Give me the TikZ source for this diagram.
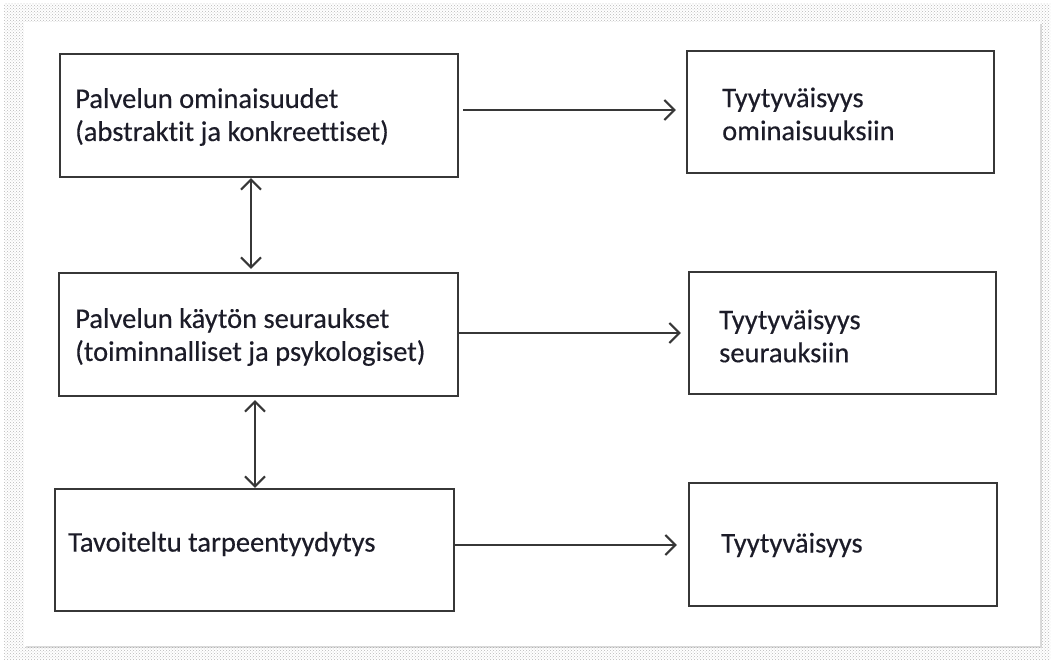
\documentclass[tikz,border=0pt]{standalone}
\usepackage{fontspec}
\setmainfont{Carlito}
\newfontfamily\lblfont{Carlito}[FakeBold=0.35,Ligatures=NoCommon]
\usetikzlibrary{arrows.meta,patterns,shadows}
\definecolor{txt}{RGB}{28,28,40}
\definecolor{edge}{RGB}{55,55,55}
\begin{document}
\begin{tikzpicture}[x=1pt,y=-1pt,
  box/.style={draw=edge,line width=2.4pt,fill=white,inner sep=0pt},
  lbl/.style={anchor=west,align=left,text=txt,font=\lblfont\fontsize{28.5}{33}\selectfont,inner sep=0pt},
  arr/.style={draw=edge,line width=2pt,-{Straight Barb[length=10pt,width=20pt,line width=2pt]}},
  darr/.style={draw=edge,line width=2pt,{Straight Barb[length=10pt,width=20pt,line width=2pt]}-{Straight Barb[length=10pt,width=20pt,line width=2pt]}}]
\useasboundingbox (0,0) rectangle (1052,661);
\fill[white] (0,0) rectangle (1052,661);
\fill[pattern=crosshatch dots, pattern color=gray!55] (4,4) rectangle (1050,659);
\fill[white, drop shadow={opacity=0.25, shadow xshift=2pt, shadow yshift=-2pt}] (24,22) rectangle (1040,646);
% boxes
\node[box, minimum width=398pt, minimum height=123pt] (b1) at (259,115.5) {};
\node[box, minimum width=399pt, minimum height=123pt] (b2) at (258.5,334.5) {};
\node[box, minimum width=399pt, minimum height=122pt] (b3) at (254.5,550) {};
\node[box, minimum width=307pt, minimum height=122pt] (r1) at (840.5,112) {};
\node[box, minimum width=307pt, minimum height=122pt] (r2) at (842.5,333) {};
\node[box, minimum width=308pt, minimum height=123pt] (r3) at (843,544.5) {};
% texts
\node[lbl] (t1) at (75,117) {Palvelun ominaisuudet\\(abstraktit ja konkreettiset)};
\node[lbl] (t2) at (75,337) {Palvelun käytön seuraukset\\(toiminnalliset ja psykologiset)};
\node[lbl] (t3) at (68,544) {Tavoiteltu tarpeentyydytys};
\node[lbl] (s1) at (722,114) {Tyytyväisyys\\ominaisuuksiin};
\node[lbl] (s2) at (719,336) {Tyytyväisyys\\seurauksiin};
\node[lbl] (s3) at (721,545) {Tyytyväisyys};
% arrows
\draw[arr, shorten <=4pt, shorten >=10pt] (b1.east |- 0,110) -- (r1.west |- 0,110);
\draw[arr, shorten >=7pt] (b2.east |- 0,333) -- (r2.west |- 0,333);
\draw[arr, shorten >=11pt] (b3.east |- 0,545) -- (r3.west |- 0,545);
\draw[darr, shorten >=3pt] (b1.south -| 251,0) -- (b2.north -| 251,0);
\draw[darr, shorten <=3pt] (b2.south -| 255,0) -- (b3.north -| 255,0);
\end{tikzpicture}
\end{document}
